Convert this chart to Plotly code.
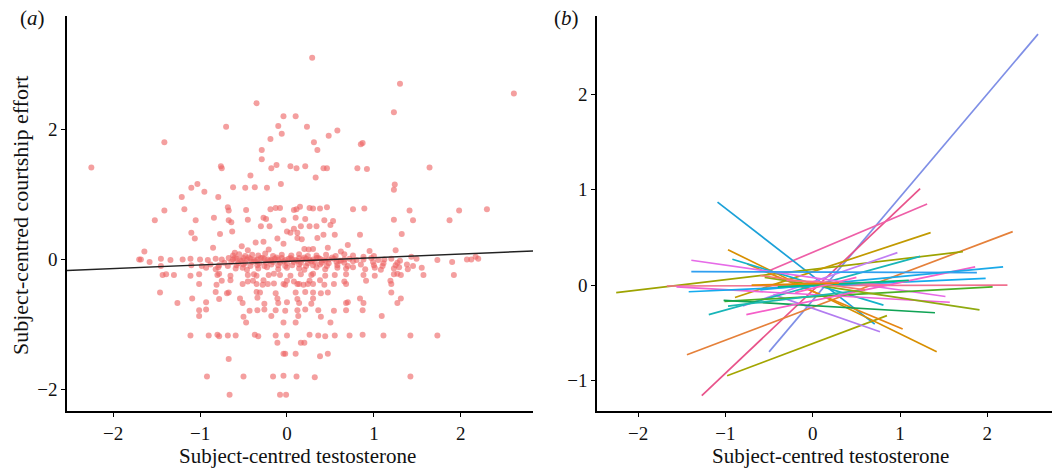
import plotly.graph_objects as go

# ---------------- Panel (a) data: subject-centred testosterone vs courtship effort
upper_x = [0.29, 1.30, 2.61, -0.35, 1.23, -0.04, 0.10, -0.70, -0.10, 0.23, 0.58, -0.06, 0.48, -1.41, 0.87, 0.85, 0.31, -0.19,
           -0.29, 0.35, -0.29, -2.25, -0.76, -0.75, -0.18, -0.12, 0.04, 0.11, 0.21, 0.42, 0.46, 0.81, 0.92, 1.64, 0.33, -0.42,
           -1.03, -1.10, -0.95, -0.62, -0.48, -0.37, -0.23, -0.07, 1.24, 1.23, -1.21, -0.79, -1.18, -1.41, -0.68, -0.67, -0.47,
           -0.19, -0.13, -0.08, 0.08, 0.11, 0.15, 0.26, 0.30, 0.38, 0.46, 0.76, 0.89, 1.41, 1.98, 2.30, -1.52, -1.05, -0.84,
           -0.67, -0.64, -0.45, -0.27, -0.24, -0.04, 0.10, 0.21, 0.43, 0.53, 1.23, 1.45, 1.87, -0.30, -0.20, 0.08, 0.16, 0.26,
           0.34, 0.50, -1.10, -0.77, -0.63, 0.00, 0.04, 0.12, 0.42, 0.55, 0.84, 1.32, -1.06, -0.11, 0.12, 0.17, 0.35, -0.36,
           -0.27, -0.04, 0.20, 0.25, 0.30, 0.47, -0.45, -0.21, -1.64, 0.95, 1.25, 1.43, 2.17, 2.07, 2.12, 1.73, 1.90, 2.20, 1.49,
           -0.52, -0.60, 0.62, 0.70, -0.85]
upper_y = [3.10, 2.70, 2.55, 2.40, 2.26, 2.20, 2.20, 2.04, 2.05, 2.04, 1.98, 1.93, 1.90, 1.80, 1.79, 1.77, 1.80, 1.85,
           1.68, 1.68, 1.54, 1.41, 1.43, 1.40, 1.40, 1.45, 1.43, 1.40, 1.43, 1.40, 1.40, 1.40, 1.39, 1.41, 1.26, 1.29,
           1.16, 1.10, 1.04, 1.11, 1.10, 1.11, 1.10, 1.16, 1.15, 1.07, 0.96, 0.96, 0.77, 0.75, 0.80, 0.75, 0.76,
           0.77, 0.79, 0.79, 0.76, 0.77, 0.81, 0.79, 0.78, 0.78, 0.80, 0.77, 0.78, 0.75, 0.75, 0.77, 0.60, 0.60, 0.64,
           0.60, 0.57, 0.61, 0.64, 0.62, 0.60, 0.64, 0.62, 0.60, 0.59, 0.61, 0.60, 0.60, 0.51, 0.51, 0.47, 0.51, 0.51,
           0.51, 0.53, 0.41, 0.39, 0.43, 0.43, 0.41, 0.41, 0.38, 0.38, 0.38, 0.39, 0.32, 0.32, 0.33, 0.31, 0.33, 0.26,
           0.27, 0.24, 0.16, 0.15, 0.16, 0.18, 0.14, 0.15, 0.12, 0.13, 0.14, 0.04, 0.04, 0.00, 0.00, -0.01, -0.04, 0.01, 0.01,
           0.20, 0.10, 0.12, 0.22, 0.18]

band_x = [-1.70, -1.68, -1.45, -1.34, -1.20, -1.11, -1.00, -0.91, -0.82, -0.75, -0.67, -0.62, -0.58, -0.54, -0.50, -0.46,
          -0.42, -0.38, -0.34, -0.30, -0.26, -0.22, -0.18, -0.14, -0.10, -0.06, -0.02, 0.02, 0.06, 0.10, 0.14, 0.18, 0.22,
          0.26, 0.30, 0.34, 0.38, 0.42, 0.48, 0.54, 0.60, 0.66, 0.72, 0.80, 0.88, 0.97, 1.05, 1.12, 1.20, 1.30,
          -0.62, -0.55, -0.48, -0.40, -0.33, -0.25, -0.16, -0.06, 0.05, 0.14, 0.24, 0.34, 0.45, 0.56, 0.66, 0.76, 0.88, 1.00,
          -1.58, -0.72, -0.64, -0.56, -0.48, -0.40, -0.32, -0.24, -0.16, -0.08, 0.00, 0.08, 0.16, 0.24, 0.32, 0.40, 0.48,
          0.57, 0.66, 0.76, 0.99, 1.11, 1.27,
          -1.45, -1.10, -0.98, -0.88, -0.78, -0.68, -0.58, -0.50, -0.42, -0.34, -0.26, -0.18, -0.10, -0.02, 0.06, 0.14,
          0.22, 0.30, 0.38, 0.46, 0.58, 0.70, 0.85, 1.00, 1.10, 1.25, 1.38, 1.45,
          -0.60, -0.52, -0.44, -0.36, -0.28, -0.20, -0.12, -0.04, 0.04, 0.12, 0.20, 0.28, 0.36, 0.44, 0.52, 0.62]
band_y = [0.00, 0.00, 0.01, -0.01, 0.00, 0.01, 0.00, -0.01, 0.01, 0.00, 0.02, 0.00, 0.01, -0.01, 0.02, 0.00,
          0.01, -0.01, 0.00, 0.02, 0.01, 0.00, -0.01, 0.01, 0.00, 0.02, -0.01, 0.01, 0.00, -0.01, 0.02, 0.00, 0.01,
          -0.01, 0.00, 0.02, 0.01, -0.01, 0.00, 0.01, -0.02, 0.00, 0.01, -0.01, 0.00, 0.02, -0.01, 0.00, 0.01, -0.02,
          0.06, 0.08, 0.05, 0.07, 0.06, 0.09, 0.05, 0.07, 0.06, 0.08, 0.05, 0.06, 0.07, 0.05, 0.08, 0.06, 0.04, 0.05,
          -0.04, -0.05, -0.04, -0.06, -0.05, -0.04, -0.06, -0.05, -0.04, -0.05, -0.06, -0.04, -0.05, -0.06, -0.04, -0.05,
          -0.06, -0.04, -0.05, -0.03, -0.04, -0.06, -0.05,
          -0.10, -0.09, -0.10, -0.08, -0.09, -0.10, -0.09, -0.08, -0.10, -0.09, -0.10, -0.08, -0.09, -0.10, -0.09, -0.08,
          -0.10, -0.09, -0.08, -0.10, -0.09, -0.10, -0.08, -0.09, -0.10, -0.09, -0.08, -0.10,
          0.02, -0.02, 0.03, -0.03, 0.02, -0.02, 0.03, -0.03, 0.02, -0.02, 0.03, -0.03, 0.02, -0.02, 0.03, -0.02]

lower_x = [-0.93, -0.82, -0.79, -0.59, -0.51, -0.46, -0.33, -0.23, -0.10, 0.00, 0.14, 0.20, 0.34, 0.44, 0.58, 0.68, 0.76,
           0.90, 1.01, 1.08, 1.23, 1.29, 1.39, 1.55,
           -1.43, -1.39, -1.30, -1.11, -1.01, -0.80, -0.78, -0.65, -0.45, -0.38, -0.35, -0.21, -0.15, -0.08, 0.04, 0.16,
           0.28, 0.30, 0.44, 0.55, 0.68, 0.88, 1.01, 1.23, 1.27, 1.31, 1.57, 1.92,
           -0.75, -0.65, -0.45, -0.39, -0.27, 0.00, 0.08, 0.26, 0.38, 0.66, 0.91, 1.19,
           -1.01, -0.81, -0.51, -0.35, -0.28, -0.22, -0.15, -0.04, -0.02, 0.12, 0.14, 0.19, 0.24, 0.30, 0.43, 0.54, 0.68, 1.20,
           -1.46, -0.82, -0.69, -0.67, -0.35, -0.31, -0.13, 0.10, 0.21, 0.30, 0.39, 0.47, 1.20,
           -1.09, -0.78, -0.54, -0.34, -0.11, 0.12, 0.30, 0.84, 1.31,
           -1.26, -0.93, -0.51, -0.26, -0.10, 0.00, 0.14, 0.28, 0.68, 0.70, 0.88, 1.27,
           -1.01, -0.93, -0.43, -0.34, -0.26, -0.13, -0.02, 0.12, 0.21, 0.36, 0.54, 0.68, 0.87,
           -1.01, -0.50, -0.18, 0.13, 0.39, 1.09,
           -0.47, -0.04, 0.10, 0.50,
           -1.11, -0.90, -0.80, -0.78, -0.68, -0.59, -0.37, -0.33, -0.13, 0.00, 0.26, 0.36, 0.44, 0.55, 0.72, 0.87, 1.11,
           1.42, 1.73,
           -0.11, 0.16, 0.20,
           -0.04, -0.02, 0.10, 0.47, 0.38, -0.67,
           -0.92, -0.50, -0.16, -0.04, 0.11, 0.32, 1.42,
           -0.66, -0.08, -0.01]
lower_y = [-0.13, -0.15, -0.12, -0.14, -0.13, -0.16, -0.14, -0.12, -0.15, -0.13, -0.14, -0.16, -0.12, -0.15, -0.13,
           -0.14, -0.12, -0.15, -0.13, -0.16, -0.14, -0.12, -0.15, -0.13,
           -0.24, -0.23, -0.24, -0.25, -0.23, -0.24, -0.22, -0.25, -0.24, -0.23, -0.25, -0.24, -0.22, -0.24, -0.25, -0.23,
           -0.24, -0.22, -0.25, -0.24, -0.23, -0.24, -0.25, -0.23, -0.22, -0.24, -0.24, -0.24,
           -0.33, -0.32, -0.34, -0.33, -0.32, -0.33, -0.34, -0.33, -0.32, -0.34, -0.33, -0.33,
           -0.38, -0.39, -0.38, -0.38, -0.39, -0.38, -0.37, -0.38, -0.39, -0.38, -0.38, -0.39, -0.38, -0.38, -0.39, -0.38,
           -0.38, -0.38,
           -0.51, -0.50, -0.52, -0.51, -0.50, -0.51, -0.52, -0.51, -0.50, -0.51, -0.52, -0.51, -0.51,
           -0.60, -0.61, -0.60, -0.59, -0.60, -0.61, -0.60, -0.60, -0.60,
           -0.67, -0.66, -0.67, -0.68, -0.67, -0.66, -0.67, -0.68, -0.67, -0.66, -0.67, -0.67,
           -0.78, -0.77, -0.79, -0.78, -0.77, -0.78, -0.79, -0.78, -0.77, -0.78, -0.79, -0.78, -0.78,
           -0.87, -0.88, -0.87, -0.87, -0.88, -0.87,
           -0.97, -0.97, -0.97, -0.97,
           -1.17, -1.17, -1.16, -1.18, -1.17, -1.17, -1.16, -1.18, -1.17, -1.17, -1.16, -1.17, -1.18, -1.17, -1.17, -1.16,
           -1.17, -1.17, -1.17,
           -1.28, -1.28, -1.28,
           -1.45, -1.45, -1.45, -1.45, -1.49, -1.53,
           -1.80, -1.80, -1.80, -1.79, -1.80, -1.81, -1.80,
           -2.08, -2.08, -2.08]

fit_intercept = -0.03
fit_slope = 0.056

# ---------------- Panel (b) data: per-subject regression lines (start x, start y, end x, end y)
seg_x0 = [-0.50, -1.27, -0.50, -1.09, -1.44, -0.98, -2.25, -0.89, -0.97, -0.75, -0.80, -0.45, -0.92, -1.19, -1.39,
          -1.39, -1.67, -1.56, -1.42, -1.01, -1.02, -0.97, -0.76, -0.55, -0.60, -0.30, -0.60, -0.40, -0.20, -0.70]
seg_y0 = [-0.70, -1.16, 0.15, 0.87, -0.73, -0.95, -0.08, -0.13, 0.37, 0.22, -0.22, -0.10, 0.27, -0.31, 0.26,
          0.14, -0.01, -0.02, -0.07, -0.17, -0.16, -0.22, -0.31, 0.08, -0.05, 0.05, 0.10, -0.02, -0.08, 0.00]
seg_x1 = [2.58, 1.23, 1.31, 0.71, 2.29, 0.85, 1.72, 1.35, 1.42, 1.03, 0.97, 0.77, 0.81, 1.23, 1.52,
          1.88, 2.23, 1.57, 1.98, 2.06, 1.40, 0.60, 1.86, 1.91, 2.18, 0.90, 0.60, 1.10, 0.50, 0.30]
seg_y1 = [2.63, 1.01, 0.85, -0.41, 0.56, -0.32, 0.35, 0.55, -0.70, -0.46, 0.34, -0.49, -0.21, 0.30, -0.12,
          0.13, 0.00, -0.18, 0.07, -0.02, -0.29, -0.05, 0.19, -0.26, 0.19, 0.00, -0.05, 0.05, 0.08, 0.02]
seg_colors = ["#7F8FE6", "#E8538A", "#EE5FA7", "#1BA1D8", "#E5803A", "#A3A500", "#9DA300", "#C29A00", "#D88F00",
              "#E68613", "#C17DF5", "#B27CF0", "#13B3C9", "#17B5B8", "#E66BE8", "#2F9FF0", "#F0708F", "#F062D8",
              "#14ABEF", "#4CAF24", "#10A355", "#1AB9B0", "#F55FC9", "#8FAA10", "#1AA9E8", "#FF6AA0", "#F8766D",
              "#00BF7D", "#FF61C3", "#E58700"]

x_title = "Subject-centred testosterone"
y_title = "Subject-centred courtship effort"

xa_range = [-2.53, 2.83]
ya_range = [-2.33, 3.74]
xb_range = [-2.47, 2.74]
yb_range = [-1.32, 2.82]

FONT = "Liberation Serif, Times New Roman, serif"

fig = go.Figure()

sx = upper_x + band_x + lower_x
sy = upper_y + band_y + lower_y
fig.add_trace(go.Scatter(x=sx, y=sy, mode="markers", xaxis="x", yaxis="y",
                         marker=dict(size=6, color="rgba(238,100,100,0.62)", line=dict(width=0)),
                         showlegend=False, hoverinfo="skip"))
fig.add_trace(go.Scatter(x=[xa_range[0], xa_range[1]],
                         y=[fit_intercept + fit_slope * xa_range[0], fit_intercept + fit_slope * xa_range[1]],
                         mode="lines", xaxis="x", yaxis="y", line=dict(color="#222222", width=1.4),
                         showlegend=False, hoverinfo="skip"))

for i in range(len(seg_x0)):
    fig.add_trace(go.Scatter(x=[seg_x0[i], seg_x1[i]], y=[seg_y0[i], seg_y1[i]], mode="lines",
                             xaxis="x2", yaxis="y2", line=dict(color=seg_colors[i], width=1.7),
                             showlegend=False, hoverinfo="skip"))

axis_common = dict(showgrid=False, zeroline=False, showline=True, linecolor="black", linewidth=1.5,
                   ticks="outside", ticklen=4, tickwidth=1.2, tickcolor="black",
                   tickfont=dict(family=FONT, size=19, color="#111111"), automargin=False)

fig.update_layout(
    width=1056, height=470, margin=dict(l=0, r=0, t=0, b=0),
    paper_bgcolor="white", plot_bgcolor="white",
    xaxis=dict(domain=[67 / 1056, 533 / 1056], range=xa_range, tickvals=[-2, -1, 0, 1, 2], anchor="y",
               ticklabelstandoff=0, **axis_common),
    yaxis=dict(domain=[59 / 470, 454 / 470], range=ya_range, tickvals=[-2, 0, 2], anchor="x", **axis_common),
    xaxis2=dict(domain=[597 / 1056, 1052 / 1056], range=xb_range, tickvals=[-2, -1, 0, 1, 2], anchor="y2",
                ticklabelstandoff=0, **axis_common),
    yaxis2=dict(domain=[59 / 470, 454 / 470], range=yb_range, tickvals=[-1, 0, 1, 2], anchor="x2", **axis_common),
    annotations=[
        dict(text=x_title, x=297 / 1056, y=0, xref="paper", yref="paper", showarrow=False,
             font=dict(family=FONT, size=21, color="#111111"), xanchor="center", yanchor="bottom"),
        dict(text=x_title, x=830 / 1056, y=0, xref="paper", yref="paper", showarrow=False,
             font=dict(family=FONT, size=21, color="#111111"), xanchor="center", yanchor="bottom"),
        dict(text=y_title, x=20 / 1056, y=(470 - 216) / 470, xref="paper", yref="paper", showarrow=False,
             textangle=-90, font=dict(family=FONT, size=22, color="#111111"), xanchor="center", yanchor="middle"),
        dict(text="(<i>a</i>)", x=32 / 1056, y=(470 - 18) / 470, xref="paper", yref="paper", showarrow=False,
             font=dict(family=FONT, size=21, color="#111111"), xanchor="center", yanchor="middle"),
        dict(text="(<i>b</i>)", x=566 / 1056, y=(470 - 18) / 470, xref="paper", yref="paper", showarrow=False,
             font=dict(family=FONT, size=21, color="#111111"), xanchor="center", yanchor="middle"),
    ],
)

fig.write_html("out.html")
